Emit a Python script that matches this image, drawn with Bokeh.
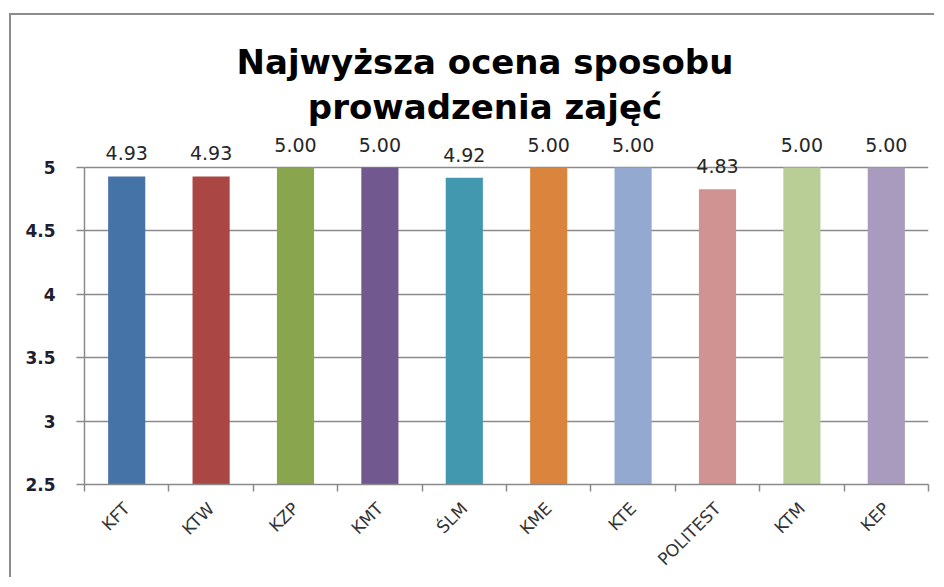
from bokeh.plotting import figure
from bokeh.models import Range1d, FixedTicker, ColumnDataSource, LabelSet, Label
from bokeh.core.properties import value
from bokeh.embed import file_html
from bokeh.resources import INLINE
import math

# ---- data ----
categories = ["KFT", "KTW", "KZP", "KMT", "ŚLM", "KME", "KTE", "POLITEST", "KTM", "KEP"]
values = [4.93, 4.93, 5.00, 5.00, 4.92, 5.00, 5.00, 4.83, 5.00, 5.00]
colors = ["#4572A7", "#AA4643", "#89A54E", "#71588F", "#4198AF",
          "#DB843D", "#93A9CF", "#D19392", "#B9CD96", "#A99BBD"]
y_ticks = [2.5, 3, 3.5, 4, 4.5, 5]
y_tick_labels = ["2.5", "3", "3.5", "4", "4.5", "5"]
title_lines = ["Najwyższa ocena sposobu", "prowadzenia zajęć"]

xs = [i + 0.5 for i in range(len(categories))]
src = ColumnDataSource(dict(x=xs, top=values, color=colors,
                            label=["%.2f" % v for v in values]))

p = figure(width=925, height=564, output_backend="svg", toolbar_location=None,
           x_range=Range1d(0, len(categories)), y_range=Range1d(2.5, 6.2),
           min_border_left=73, min_border_right=8, min_border_top=0, min_border_bottom=95)
p.margin = (13, 0, 0, 9)
p.styles = {"border-left": "2px solid #8c8c8c", "border-top": "2px solid #8c8c8c"}
p.outline_line_color = None
p.background_fill_color = "white"
p.border_fill_color = "white"

p.vbar(x="x", top="top", bottom=2.5, width=0.44, color="color", line_color=None, source=src)

p.add_layout(LabelSet(x="x", y="top", text="label", source=src, y_offset=16,
                      text_align="center", text_baseline="alphabetic",
                      text_font=value("DejaVu Sans"), text_font_size=value("19px"),
                      text_color="#262626"))

# axes
p.xgrid.visible = False
p.ygrid.grid_line_color = "#8a8a8a"
p.ygrid.grid_line_width = 1.5
p.ygrid.ticker = FixedTicker(ticks=y_ticks)

p.yaxis.ticker = FixedTicker(ticks=y_ticks)
p.yaxis.bounds = (2.5, 5)
p.yaxis.major_label_overrides = {t: l for t, l in zip(y_ticks, y_tick_labels)}
p.yaxis.axis_line_color = "#8a8a8a"
p.yaxis.axis_line_width = 1.5
p.yaxis.major_tick_line_color = "#8a8a8a"
p.yaxis.major_tick_line_width = 1.5
p.yaxis.major_tick_out = 8
p.yaxis.major_tick_in = 0
p.yaxis.minor_tick_line_color = None
p.yaxis.major_label_standoff = 21
p.yaxis.major_label_text_font = "DejaVu Sans"
p.yaxis.major_label_text_font_style = "bold"
p.yaxis.major_label_text_font_size = "17px"
p.yaxis.major_label_text_color = "#1e1e30"

p.xaxis.ticker = FixedTicker(ticks=xs, minor_ticks=list(range(len(categories) + 1)))
p.xaxis.major_label_overrides = {x: c for x, c in zip(xs, categories)}
p.xaxis.axis_line_color = "#8a8a8a"
p.xaxis.axis_line_width = 1.5
p.xaxis.major_tick_line_color = None
p.xaxis.major_tick_out = 0
p.xaxis.major_tick_in = 0
p.xaxis.minor_tick_line_color = "#8a8a8a"
p.xaxis.minor_tick_line_width = 1.5
p.xaxis.minor_tick_out = 7
p.xaxis.minor_tick_in = 0
p.xaxis.major_label_orientation = math.pi / 4
p.xaxis.major_label_standoff = 14
p.xaxis.major_label_text_font = "DejaVu Sans"
p.xaxis.major_label_text_font_size = "17px"
p.xaxis.major_label_text_color = "#333333"

# two-line title
for txt, yy in zip(title_lines, [5.836, 5.481]):
    p.add_layout(Label(x=4.745, y=yy, text=txt, text_align="center", text_baseline="alphabetic",
                       text_font="DejaVu Sans", text_font_style="bold", text_font_size="34px",
                       text_color="#000000"))

open("out.html", "w").write(file_html(p, INLINE))
